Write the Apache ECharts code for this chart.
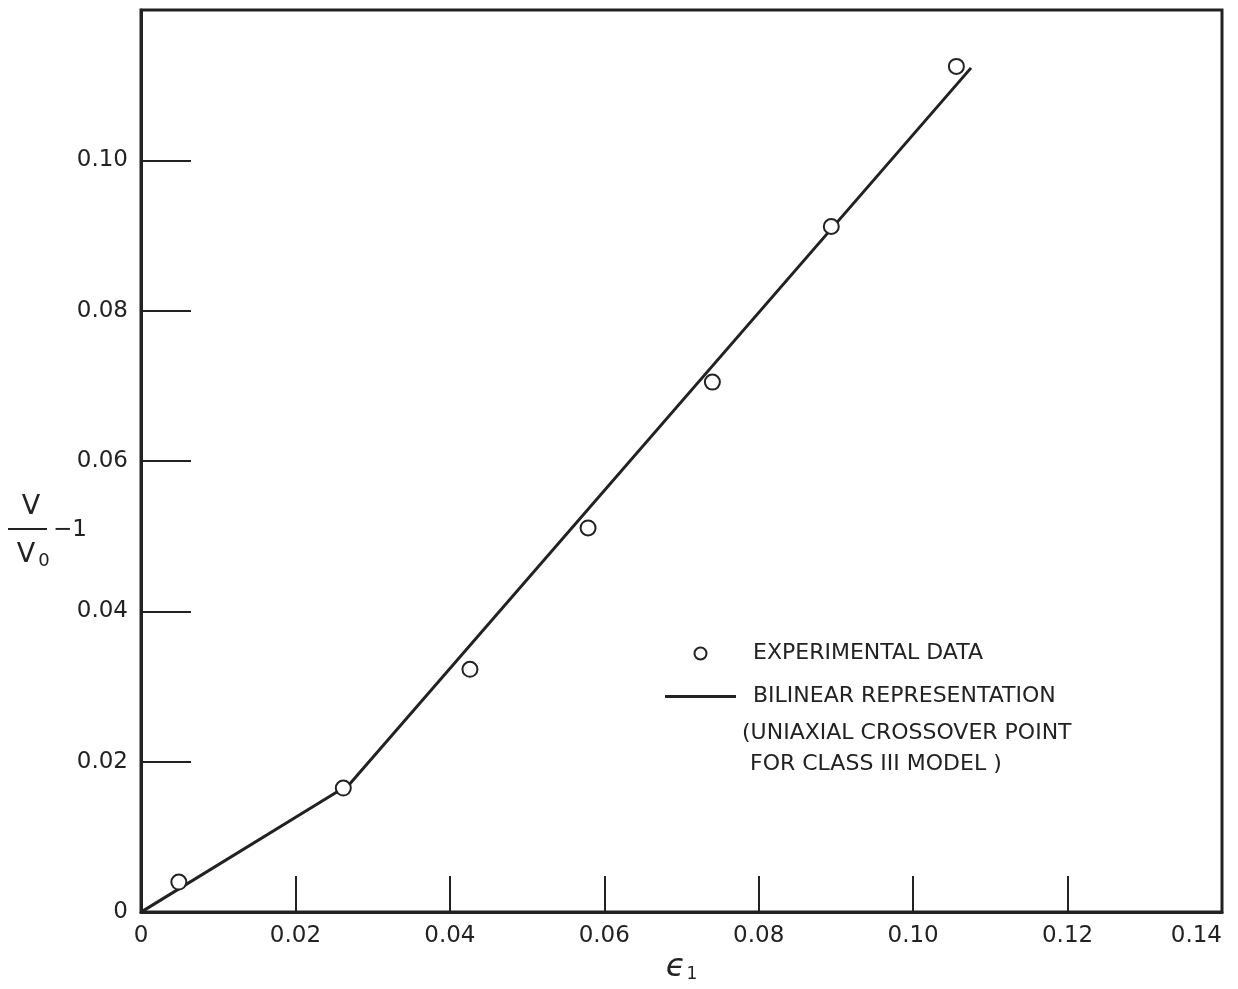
<!DOCTYPE html>
<html><head><meta charset="utf-8">
<script src="https://cdn.jsdelivr.net/npm/echarts@6/dist/echarts.min.js"></script>
<style>html,body{margin:0;padding:0;background:#fff}#c{width:1238px;height:989px}</style>
</head><body><div id="c"></div>
<script>
// ---- data ----
const strainExp = [0.0049, 0.0262, 0.0426, 0.0579, 0.0740, 0.0894, 0.1056];
const volumeExp = [0.0040, 0.0165, 0.0323, 0.0511, 0.0705, 0.0912, 0.1125];
const strainFit = [0, 0.0270, 0.1075];
const volumeFit = [0, 0.0170, 0.1123];
const xTickLabels = ['0', '0.02', '0.04', '0.06', '0.08', '0.10', '0.12', '0.14'];
const yTickLabels = ['0', '0.02', '0.04', '0.06', '0.08', '0.10', ''];
const legendNames = ['EXPERIMENTAL DATA', 'BILINEAR REPRESENTATION'];
const noteLines = ['(UNIAXIAL CROSSOVER POINT', 'FOR CLASS III MODEL )'];

const ink = '#222222';
const font = 'DejaVu Sans';
const chart = echarts.init(document.getElementById('c'), null, {renderer: 'canvas'});

const expData = strainExp.map((x, i) => [x, volumeExp[i]]);
const fitData = strainFit.map((x, i) => [x, volumeFit[i]]);

chart.setOption({
  backgroundColor: '#fff',
  animation: false,
  grid: {left: 141, right: 16, top: 10, bottom: 67, show: true, borderColor: ink, borderWidth: 3},
  xAxis: {
    type: 'value', min: 0, max: 0.14, interval: 0.02,
    axisLine: {show: true, onZero: false, lineStyle: {color: ink, width: 3}},
    axisTick: {show: true, inside: true, length: 36, lineStyle: {color: ink, width: 2}},
    splitLine: {show: false},
    axisLabel: {margin: 12, fontSize: 23, color: ink, fontFamily: font, alignMaxLabel: 'right',
      formatter: (v, i) => xTickLabels[i]},
    name: '{e|ϵ}{s|1}', nameLocation: 'middle', nameGap: 38,
    nameTextStyle: {rich: {
      e: {fontSize: 32, fontStyle: 'italic', fontFamily: font, color: ink},
      s: {fontSize: 17, fontFamily: font, color: ink, padding: [14, 0, 0, 1]}
    }}
  },
  yAxis: {
    type: 'value', min: 0, max: 0.12, interval: 0.02,
    axisLine: {show: true, onZero: false, lineStyle: {color: ink, width: 3}},
    axisTick: {show: true, inside: true, length: 50, lineStyle: {color: ink, width: 2}},
    splitLine: {show: false},
    axisLabel: {margin: 13, fontSize: 23, color: ink, fontFamily: font,
      formatter: (v, i) => yTickLabels[i]}
  },
  legend: {
    orient: 'vertical', left: 660, top: 637,
    itemWidth: 71, itemHeight: 12, itemGap: 20,
    textStyle: {fontSize: 22, lineHeight: 23, color: ink, fontFamily: font, padding: [0, 0, 0, 12]},
    data: [
      {name: legendNames[0], icon: 'emptyCircle'},
      {name: legendNames[1], icon: 'path://M0,0 L71,0 L71,3 L0,3 Z', itemStyle: {color: ink, borderWidth: 0}}
    ]
  },
  series: [
    {
      name: legendNames[1], type: 'line', data: fitData, symbol: 'none', z: 2,
      lineStyle: {color: ink, width: 3}, itemStyle: {color: ink}
    },
    {
      name: legendNames[0], type: 'scatter', data: expData, symbol: 'emptyCircle', symbolSize: 15, z: 3,
      itemStyle: {color: ink, borderColor: ink, borderWidth: 2, opacity: 1}
    }
  ],
  graphic: [
    {type: 'text', left: 742, top: 722, style: {text: noteLines[0], fontSize: 22, fontFamily: font, fill: ink}},
    {type: 'text', left: 750, top: 753, style: {text: noteLines[1], fontSize: 22, fontFamily: font, fill: ink}},
    // y-axis name: V / V0 - 1
    {type: 'text', x: 31, y: 507, style: {text: 'V', fontSize: 27, fontFamily: font, fill: ink, align: 'center', verticalAlign: 'middle'}},
    {type: 'line', shape: {x1: 8, y1: 529, x2: 47, y2: 529}, style: {stroke: ink, lineWidth: 2}},
    {type: 'text', x: 26, y: 555, style: {text: 'V', fontSize: 27, fontFamily: font, fill: ink, align: 'center', verticalAlign: 'middle'}},
    {type: 'text', x: 44, y: 561, style: {text: '0', fontSize: 18, fontFamily: font, fill: ink, align: 'center', verticalAlign: 'middle'}},
    {type: 'text', x: 53, y: 530, style: {text: '−1', fontSize: 23, fontFamily: font, fill: ink, align: 'left', verticalAlign: 'middle'}}
  ]
});
</script>
</body></html>
